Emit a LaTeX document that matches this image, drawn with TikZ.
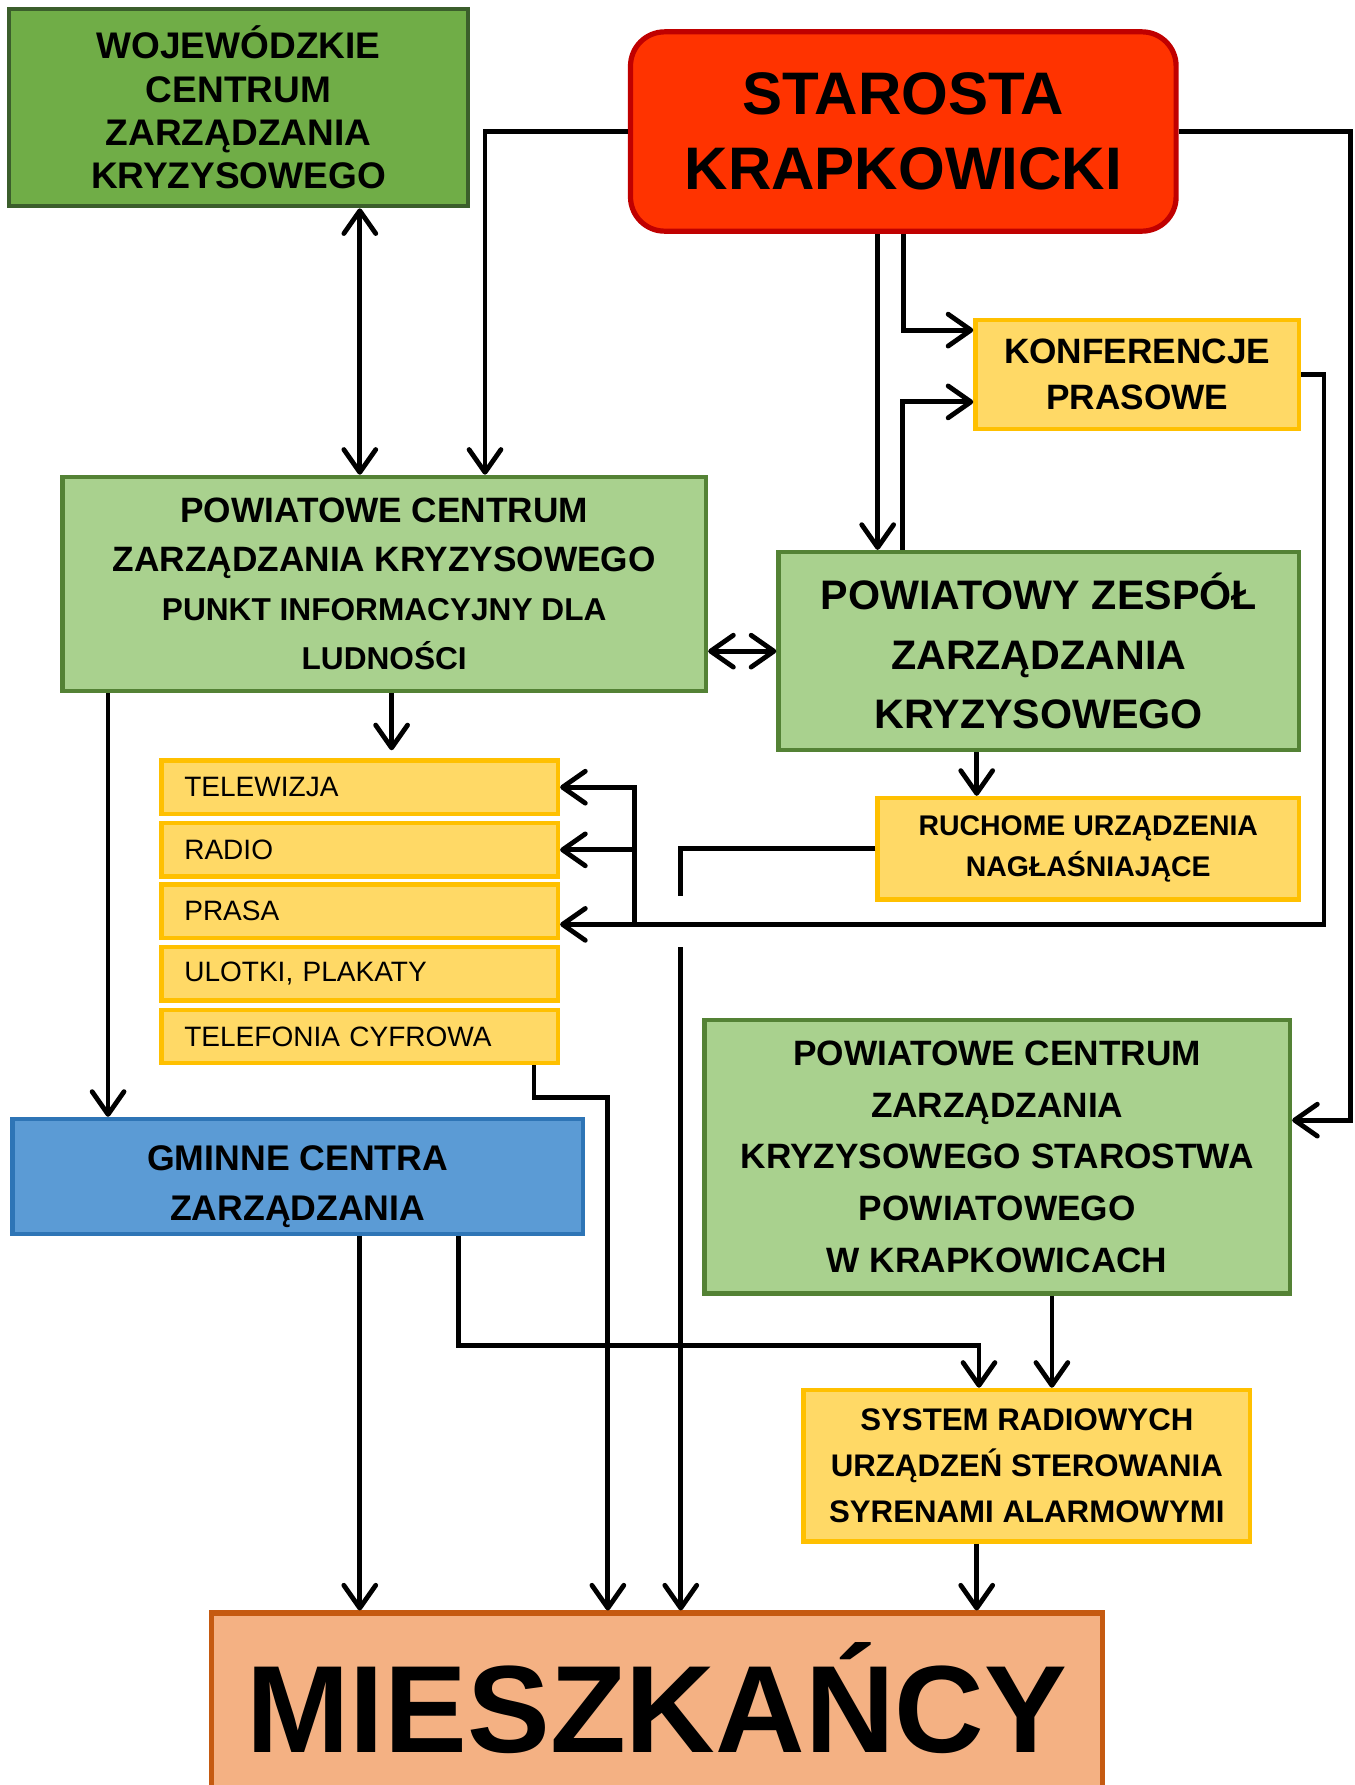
\documentclass[tikz,border=0pt]{standalone}
\usepackage{fontspec}
\setmainfont{Liberation Sans}
\usetikzlibrary{arrows.meta}

\definecolor{wojfill}{HTML}{70AD47}
\definecolor{wojdraw}{HTML}{3B5E2B}
\definecolor{starfill}{HTML}{FF3300}
\definecolor{stardraw}{HTML}{C00000}
\definecolor{grfill}{HTML}{A9D18E}
\definecolor{grdraw}{HTML}{548235}
\definecolor{yfill}{HTML}{FFD966}
\definecolor{ydraw}{HTML}{FFC000}
\definecolor{blfill}{HTML}{5B9BD5}
\definecolor{bldraw}{HTML}{2E75B6}
\definecolor{orfill}{HTML}{F4B183}
\definecolor{ordraw}{HTML}{C55A11}

\tikzset{
    barb/.tip={Straight Barb[length=2mm,width=2.8mm,round]},
    box/.style={draw, line width=1.1pt, inner sep=0pt, align=center},
    greenbox/.style={box, fill=grfill, draw=grdraw},
    yellowbox/.style={box, fill=yfill, draw=ydraw},
    medium/.style={box, fill=yfill, draw=ydraw, text width=3.08cm, inner xsep=0.2cm,
        minimum height=0.47cm, align=left, font=\fontsize{7}{8.4}\selectfont},
    conn/.style={line width=1.2pt, -barb},
    dbl/.style={line width=1.2pt, barb-barb},
    plain/.style={line width=1.2pt}
}

\begin{document}
\begin{tikzpicture}[x=0.01cm, y=-0.01cm]
    \useasboundingbox (0,0) rectangle (1190,1568);

    % Top row
    \node[box, fill=wojfill, draw=wojdraw, minimum width=4.03cm, minimum height=1.73cm,
        font=\fontsize{9.25}{10.8}\selectfont\bfseries] (wczk) at (209.5,94.5)
        {WOJEWÓDZKIE\\CENTRUM\\ZARZĄDZANIA\\KRYZYSOWEGO};
    \node[box, fill=starfill, draw=stardraw, line width=1.3pt, rounded corners=0.3cm,
        minimum width=4.79cm, minimum height=1.75cm,
        font=\fontsize{15}{18.8}\selectfont\bfseries] (starosta) at (793.5,115.5)
        {STAROSTA\\KRAPKOWICKI};
    \node[yellowbox, minimum width=2.84cm, minimum height=0.96cm,
        font=\fontsize{8.8}{11.4}\selectfont\bfseries] (konf) at (999,329)
        {KONFERENCJE\\PRASOWE};

    % Middle row
    \node[greenbox, minimum width=5.65cm, minimum height=1.88cm,
        font=\fontsize{8.8}{12.2}\selectfont\bfseries] (pczk) at (337.5,513)
        {POWIATOWE CENTRUM\\ZARZĄDZANIA KRYZYSOWEGO\\
        \fontsize{7.9}{12.2}\selectfont PUNKT INFORMACYJNY DLA\\
        \fontsize{7.9}{12.2}\selectfont LUDNOŚCI};
    \node[greenbox, minimum width=4.57cm, minimum height=1.74cm,
        font=\fontsize{10.3}{14.9}\selectfont\bfseries] (pzzk) at (912.5,572)
        {POWIATOWY ZESPÓŁ\\ZARZĄDZANIA\\KRYZYSOWEGO};
    \node[yellowbox, minimum width=3.70cm, minimum height=0.89cm,
        font=\fontsize{7.1}{10.2}\selectfont\bfseries] (ruch) at (956,745.5)
        {RUCHOME URZĄDZENIA\\NAGŁAŚNIAJĄCE};

    % Media
    \node[medium] (tv) at (316,691.5) {TELEWIZJA};
    \node[medium] (radio) at (316,746.5) {RADIO};
    \node[medium] (prasa) at (316,800.5) {PRASA};
    \node[medium] (ulotki) at (316,855.5) {ULOTKI, PLAKATY};
    \node[medium] (tel) at (316,910.5) {TELEFONIA CYFROWA};

    % Lower row
    \node[box, fill=blfill, draw=bldraw, minimum width=5.01cm, minimum height=1.01cm,
        text height=0.83cm, font=\fontsize{8.9}{12.5}\selectfont\bfseries] (gminne) at (261.5,1033.5)
        {GMINNE CENTRA\\ZARZĄDZANIA};
    \node[greenbox, minimum width=5.14cm, minimum height=2.40cm,
        font=\fontsize{8.8}{12.9}\selectfont\bfseries] (pczks) at (876,1016)
        {POWIATOWE CENTRUM\\ZARZĄDZANIA\\KRYZYSOWEGO STAROSTWA\\POWIATOWEGO\\W KRAPKOWICACH};
    \node[yellowbox, minimum width=3.92cm, minimum height=1.33cm,
        font=\fontsize{7.8}{11.4}\selectfont\bfseries] (system) at (902,1287.5)
        {SYSTEM RADIOWYCH\\URZĄDZEŃ STEROWANIA\\SYRENAMI ALARMOWYMI};
    \node[box, fill=orfill, draw=ordraw, line width=1.3pt, minimum width=7.82cm, minimum height=1.70cm,
        text depth=0.22cm, font=\fontsize{31}{36}\selectfont\bfseries] (miesz) at (577,1502) {MIESZKAŃCY};

    % Connectors from the top
    \draw[dbl] ([xshift=1.065cm]wczk.south) -- ([xshift=1.065cm]wczk.south |- pczk.north);
    \draw[conn] (starosta.west) -| ([xshift=0.885cm]pczk.north);
    \draw[conn] ([xshift=-0.225cm]starosta.south) -- ([xshift=-0.225cm]starosta.south |- pzzk.north);
    \draw[conn] (starosta.south) |- ([yshift=0.39cm]konf.west);
    \draw[conn] ([xshift=-1.195cm]pzzk.north) |- ([yshift=-0.24cm]konf.west);
    \draw[conn] (starosta.east) -- ++(1.51cm,0) |- ([yshift=0.32cm]pczks.east);

    % Konferencje to the media
    \draw[conn] (konf.east) -- ++(0.2cm,0) |- ([yshift=-0.115cm]prasa.east);
    \draw[conn] ([xshift=0.65cm,yshift=-0.115cm]prasa.east) |- (tv.east);
    \draw[conn] ([xshift=0.65cm]radio.east) -- (radio.east);

    % Middle connectors
    \draw[dbl] (pczk.east |- pzzk.west) -- (pzzk.west);
    \draw[conn] ([xshift=0.065cm]pczk.south) -- ([xshift=0.065cm,yshift=0.07cm]pczk.south |- tv.north);
    \draw[conn] ([xshift=0.42cm]pczk.south west) -- ([xshift=0.42cm]pczk.south west |- gminne.north);
    \draw[conn] ([xshift=-0.545cm]pzzk.south) -- ([xshift=-0.545cm]pzzk.south |- ruch.north);

    % Down to the residents
    \coordinate (lane) at ([xshift=0.21cm]miesz.north);
    \draw[plain] (ruch.west) -| ([yshift=-0.415cm]ruch.west -| lane);
    \draw[conn] ([yshift=-0.865cm]ruch.west -| lane) -- (lane);
    \draw[conn] ([xshift=-0.23cm]tel.south east) -- ++(0,-0.28cm) -| ([xshift=-0.43cm]miesz.north);
    \draw[conn] ([xshift=0.545cm]gminne.south) -- ([xshift=0.545cm]gminne.south |- miesz.north);
    \draw[conn] ([xshift=1.415cm]gminne.south) -- ++(0,-0.96cm) -| ([xshift=-0.42cm]system.north);
    \draw[conn] ([xshift=0.48cm]pczks.south) -- ([xshift=0.48cm]pczks.south |- system.north);
    \draw[conn] ([xshift=-0.44cm]system.south) -- ([xshift=-0.44cm]system.south |- miesz.north);
\end{tikzpicture}
\end{document}
